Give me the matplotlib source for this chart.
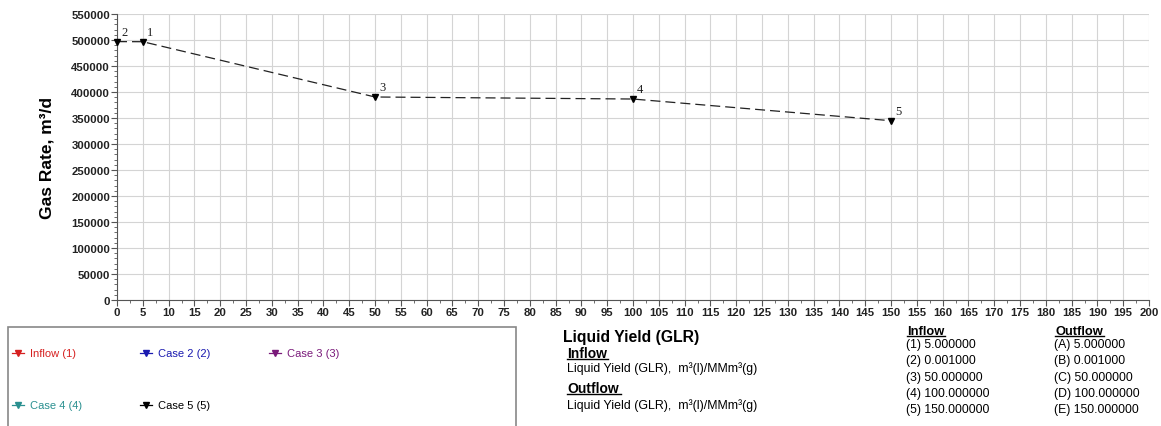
import matplotlib
matplotlib.use("Agg")
import matplotlib.pyplot as plt
from matplotlib.ticker import MultipleLocator
from matplotlib.lines import Line2D
from matplotlib.patches import Rectangle

# Liquid yield sensitivity cases (GLR, m3(l)/MMm3(g)) and resulting gas rate
case_labels = ["1", "2", "3", "4", "5"]
liquid_yield = [5.0, 0.001, 50.0, 100.0, 150.0]
gas_rate = [496700, 496900, 390400, 386500, 344800]

legend_names = ["Inflow (1)", "Case 2 (2)", "Case 3 (3)", "Case 4 (4)", "Case 5 (5)"]
legend_colors = ["#d62020", "#1a1ab0", "#7a1a7a", "#2a9090", "#000000"]

inflow_rows = ["(1) 5.000000", "(2) 0.001000", "(3) 50.000000",
               "(4) 100.000000", "(5) 150.000000"]
outflow_rows = ["(A) 5.000000", "(B) 0.001000", "(C) 50.000000",
                "(D) 100.000000", "(E) 150.000000"]

plt.rcParams["font.family"] = ["Liberation Sans", "DejaVu Sans"]

W, H = 1161, 427
fig = plt.figure(figsize=(W / 100, H / 100), dpi=100)
ax = fig.add_axes([117 / W, 1 - 301 / H, (1149 - 117) / W, (301 - 15) / H])

# curve drawn in x order
order = sorted(range(len(liquid_yield)), key=lambda i: liquid_yield[i])
xs = [liquid_yield[i] for i in order]
ys = [gas_rate[i] for i in order]
ax.plot(xs, ys, color="#222222", linestyle=(0, (8, 4)), linewidth=0.9,
        marker="v", markersize=5, markerfacecolor="black",
        markeredgecolor="black", zorder=3, clip_on=False)
for lab, x, y in zip(case_labels, liquid_yield, gas_rate):
    ax.annotate(lab, (x, y), xytext=(3, 5), textcoords="offset points",
                fontsize=9, family="Liberation Serif", color="#202020")

ax.set_xlim(0, 200)
ax.set_ylim(0, 550000)
ax.xaxis.set_major_locator(MultipleLocator(5))
ax.xaxis.set_minor_locator(MultipleLocator(2.5))
ax.yaxis.set_major_locator(MultipleLocator(50000))
ax.yaxis.set_minor_locator(MultipleLocator(10000))
ax.grid(True, which="major", color="#d4d4d4", linewidth=0.8)
ax.set_axisbelow(True)
for s in ["top", "right"]:
    ax.spines[s].set_visible(False)
for s in ["left", "bottom"]:
    ax.spines[s].set_color("#555555")
ax.tick_params(which="major", length=4, width=0.8, color="#555555",
               labelsize=8.2, pad=1)
ax.tick_params(which="minor", length=2, width=0.6, color="#555555")
for lbl in ax.get_xticklabels() + ax.get_yticklabels():
    lbl.set_fontweight("bold")
    lbl.set_color("#222222")
ax.set_ylabel("Gas Rate, m³/d", fontsize=12.5, fontweight="bold")
ax.yaxis.set_label_coords((55 - 117) / (1149 - 117), 0.5)

# legend panel
fig.patches.append(Rectangle((8 / W, -0.01), (516 - 8) / W, (H - 328) / H + 0.01,
                             transform=fig.transFigure, fill=False,
                             edgecolor="#888888", linewidth=1.2))
leg_pos = [(18, 354), (146, 354), (275, 354), (18, 406), (146, 406)]
for name, col, (px, py) in zip(legend_names, legend_colors, leg_pos):
    fx, fy = px / W, 1 - py / H
    fig.add_artist(Line2D([fx - 6 / W, fx + 6 / W], [fy, fy], color=col,
                          linewidth=0.9, transform=fig.transFigure))
    fig.add_artist(Line2D([fx], [fy], color=col, marker="v", markersize=4.5,
                          linestyle="none", transform=fig.transFigure))
    fig.text(fx + 12 / W, fy, name, color=col, fontsize=8,
             va="center", ha="left")

# axis title and units block
def ftext(px, py, s, **kw):
    return fig.text(px / W, 1 - py / H, s, va="baseline", ha="left", **kw)

def underline(x0, x1, py):
    fig.add_artist(Line2D([x0 / W, x1 / W], [1 - py / H] * 2, color="black",
                          linewidth=1.0, transform=fig.transFigure))

ftext(563, 342, "Liquid Yield (GLR)", fontsize=11.3, fontweight="bold")
ftext(567, 358, "Inflow", fontsize=10, fontweight="bold")
underline(567, 608, 360)
ftext(567, 372, "Liquid Yield (GLR),  m³(l)/MMm³(g)", fontsize=8.9)
ftext(567, 393, "Outflow", fontsize=10, fontweight="bold")
underline(567, 621, 395)
ftext(567, 409, "Liquid Yield (GLR),  m³(l)/MMm³(g)", fontsize=8.9)

ftext(907, 335, "Inflow", fontsize=9.3, fontweight="bold")
underline(907, 945, 337)
ftext(1055, 335, "Outflow", fontsize=9.3, fontweight="bold")
underline(1055, 1104, 337)
for i, (a, b) in enumerate(zip(inflow_rows, outflow_rows)):
    y = 348 + i * 16.3
    ftext(906, y, a, fontsize=8.8)
    ftext(1054, y, b, fontsize=8.8)

fig.savefig("out.png", dpi=100, facecolor="white")
